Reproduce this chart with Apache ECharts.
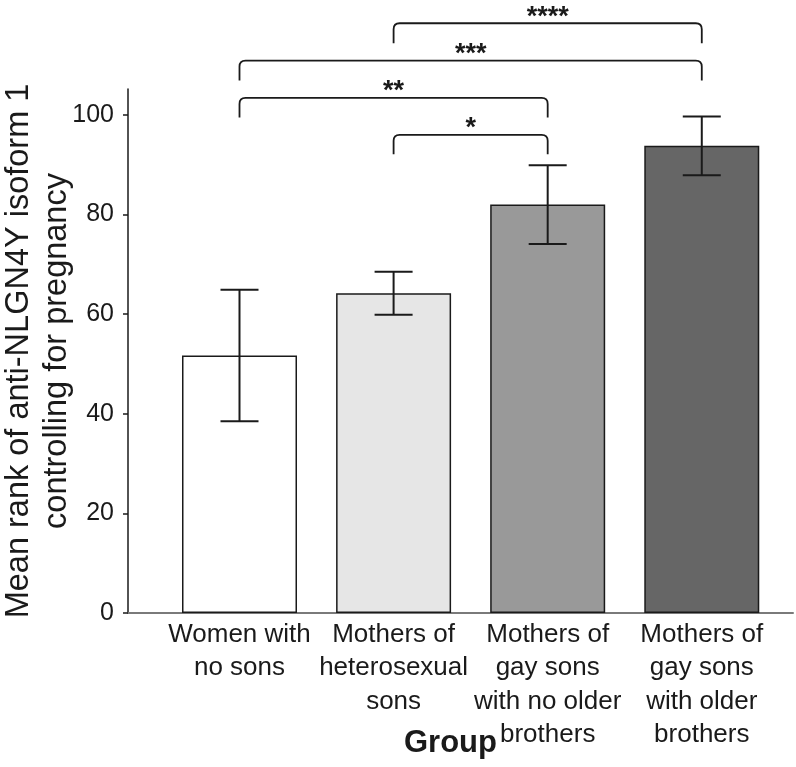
<!DOCTYPE html>
<html>
<head>
<meta charset="utf-8">
<script src="https://cdn.jsdelivr.net/npm/echarts@6/dist/echarts.min.js"></script>
<style>html,body{margin:0;padding:0;background:#fff}#chart{width:796px;height:767px}</style>
</head>
<body>
<div id="chart"></div>
<script>
const categories = ['Women with\nno sons', 'Mothers of\nheterosexual\nsons', 'Mothers of\ngay sons\nwith no older\nbrothers', 'Mothers of\ngay sons\nwith older\nbrothers'];
const means = [51.7, 64.2, 82.0, 93.8];
const errLow = [38.5, 59.9, 74.1, 87.9];
const errHigh = [64.9, 68.5, 89.9, 99.7];
const barColors = ['#ffffff', '#e6e6e6', '#999999', '#666666'];
const bracketFrom = [1, 0, 0, 1];
const bracketTo = [2, 2, 3, 3];
const bracketLevel = [96.0, 103.4, 110.9, 118.4];
const bracketLegEnd = [92.1, 99.5, 106.9, 114.4];
const bracketLabels = ['*', '**', '***', '****'];
const yMin = 0, yMax = 105.2, yStep = 20;
const xMin = -0.7236, xMax = 3.592;

const FONT = '"Liberation Sans", Arial, sans-serif';
const INK = '#1a1a1a';

const chart = echarts.init(document.getElementById('chart'), null, {renderer: 'canvas'});

const barData = means.map((v, i) => ({
  value: [i, v],
  itemStyle: {color: barColors[i], borderColor: INK, borderWidth: 1.5}
}));
const errData = means.map((v, i) => [i, errLow[i], errHigh[i]]);
const bracketData = bracketLabels.map((l, i) => [bracketFrom[i], bracketTo[i], bracketLevel[i], bracketLegEnd[i], i]);

chart.setOption({
  animation: false,
  backgroundColor: '#ffffff',
  grid: {left: 128, right: 3, top: 89, bottom: 154, containLabel: false, outerBoundsMode: 'none'},
  xAxis: {
    type: 'value',
    min: xMin, max: xMax,
    splitLine: {show: false},
    axisLine: {show: true, onZero: false, lineStyle: {color: '#7a7a7a', width: 2}},
    axisTick: {show: false},
    axisLabel: {
      customValues: [0, 1, 2, 3],
      formatter: v => categories[Math.round(v)] || '',
      color: INK, fontSize: 26, fontFamily: FONT, lineHeight: 33.5, margin: 5,
      align: 'center', verticalAlign: 'top'
    },
    name: 'Group',
    nameLocation: 'middle',
    nameGap: 112,
    nameMoveOverlap: false,
    nameTextStyle: {fontSize: 31, fontWeight: 'bold', color: INK, fontFamily: FONT, lineHeight: 36, padding: [0, 20, 0, 0]}
  },
  yAxis: {
    type: 'value',
    min: yMin, max: yMax, interval: yStep,
    splitLine: {show: false},
    axisLine: {show: true, onZero: false, lineStyle: {color: INK, width: 1.5}},
    axisTick: {show: true, length: 5, lineStyle: {color: INK, width: 1.5}},
    axisLabel: {color: INK, fontSize: 25, fontFamily: FONT, margin: 14,
      showMaxLabel: false},
    name: 'Mean rank of anti-NLGN4Y isoform 1\ncontrolling for pregnancy',
    nameLocation: 'middle',
    nameRotate: 90,
    nameGap: 52,
    nameMoveOverlap: false,
    nameTextStyle: {fontSize: 32.5, color: INK, fontFamily: FONT, lineHeight: 38}
  },
  series: [
    {
      type: 'bar',
      data: barData,
      barWidth: 115,
      z: 2
    },
    {
      type: 'custom',
      data: errData,
      z: 5,
      renderItem: (params, api) => {
        const x = api.value(0);
        const lo = api.coord([x, api.value(1)]);
        const hi = api.coord([x, api.value(2)]);
        const hw = 19;
        const st = {stroke: INK, lineWidth: 2};
        return {type: 'group', children: [
          {type: 'line', shape: {x1: lo[0], y1: lo[1], x2: hi[0], y2: hi[1]}, style: st},
          {type: 'line', shape: {x1: lo[0] - hw, y1: lo[1], x2: lo[0] + hw, y2: lo[1]}, style: st},
          {type: 'line', shape: {x1: hi[0] - hw, y1: hi[1], x2: hi[0] + hw, y2: hi[1]}, style: st}
        ]};
      }
    },
    {
      type: 'custom',
      data: bracketData,
      clip: false,
      z: 6,
      renderItem: (params, api) => {
        const a = api.value(0), b = api.value(1), lvl = api.value(2), leg = api.value(3);
        const idx = api.value(4);
        const p1 = api.coord([a, lvl]);
        const p2 = api.coord([b, lvl]);
        const l1 = api.coord([a, leg]);
        const r = 6;
        const y = p1[1];
        const path = `M${p1[0]},${l1[1]} L${p1[0]},${y + r} Q${p1[0]},${y} ${p1[0] + r},${y} L${p2[0] - r},${y} Q${p2[0]},${y} ${p2[0]},${y + r} L${p2[0]},${l1[1]}`;
        return {type: 'group', children: [
          {type: 'path', shape: {pathData: path}, style: {stroke: INK, lineWidth: 1.8, fill: null}},
          {type: 'text', x: (p1[0] + p2[0]) / 2, y: y - 6,
            style: {text: bracketLabels[idx], fontSize: 27, fontWeight: 'bold', fontFamily: FONT, fill: INK, align: 'center', verticalAlign: 'middle'}}
        ]};
      }
    }
  ]
});
</script>
</body>
</html>
